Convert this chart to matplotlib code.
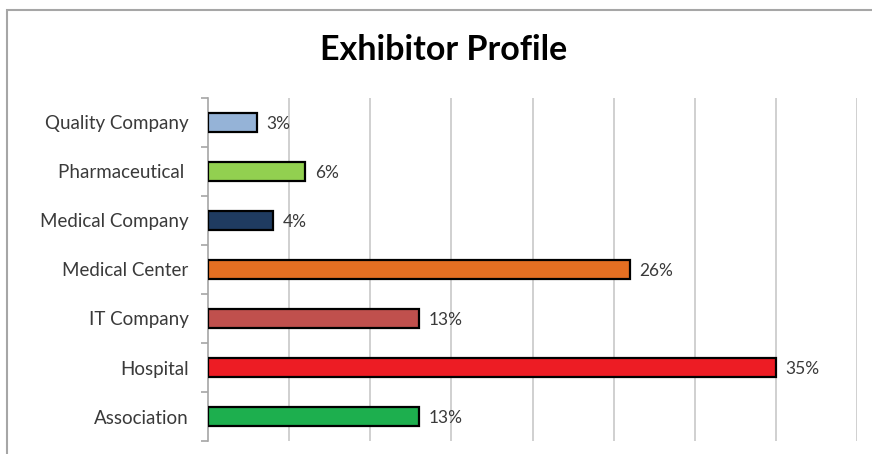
import matplotlib.pyplot as plt
import numpy as np
from matplotlib.patches import Rectangle

plt.rcParams['font.family'] = ['Lato', 'DejaVu Sans']

# data (top to bottom as in the picture)
categories = ['Quality Company', 'Pharmaceutical ', 'Medical Company', 'Medical Center',
              'IT Company', 'Hospital', 'Association']
values = [3, 6, 4, 26, 13, 35, 13]
colors = ['#95B3D7', '#92D050', '#1F3B60', '#E46F22', '#C0504D', '#ED1C24', '#1DAF4E']

fig = plt.figure(figsize=(8.72, 4.54), dpi=100)
# chart border
fig.patches.append(Rectangle((7 / 872, -0.1), 1.1, 1 - 10 / 454 + 0.1, transform=fig.transFigure,
                             fill=False, edgecolor='#A6A6A6', linewidth=1.5))
ax = fig.add_axes([208 / 872, 1 - 441 / 454, (857 - 208) / 872, (441 - 98) / 454])

y = np.arange(len(categories))
ax.barh(y, values, height=0.4, color=colors, edgecolor='black', linewidth=1.6, zorder=3)
for yi, v in zip(y, values):
    ax.text(v + 0.6, yi, f'{v}%', va='center_baseline', ha='left', fontsize=12.5,
            color='#3A3A3A')

ax.set_xlim(0, 40)
ax.set_ylim(len(categories) - 0.5, -0.5)
ax.set_xticks(np.arange(5, 41, 5))
ax.xaxis.grid(True, color='#C8C8C8', linewidth=1.2)
ax.tick_params(axis='x', length=0, labelbottom=False)
ax.set_yticks(y)
ax.set_yticklabels(categories, fontsize=13.5, color='#3A3A3A')
ax.set_yticks(np.arange(-0.5, len(categories)), minor=True)
ax.tick_params(axis='y', which='major', length=0, pad=14)
ax.tick_params(axis='y', which='minor', length=5, color='#A6A6A6', width=1.2)
for s in ['top', 'right', 'bottom']:
    ax.spines[s].set_visible(False)
ax.spines['left'].set_color('#A6A6A6')
ax.spines['left'].set_linewidth(1.2)
ax.set_axisbelow(True)

fig.text(444 / 872, 1 - 50 / 454, 'Exhibitor Profile', ha='center', va='center',
         fontsize=24.5, fontweight='bold', color='black')

fig.savefig('out.png', dpi=100)
